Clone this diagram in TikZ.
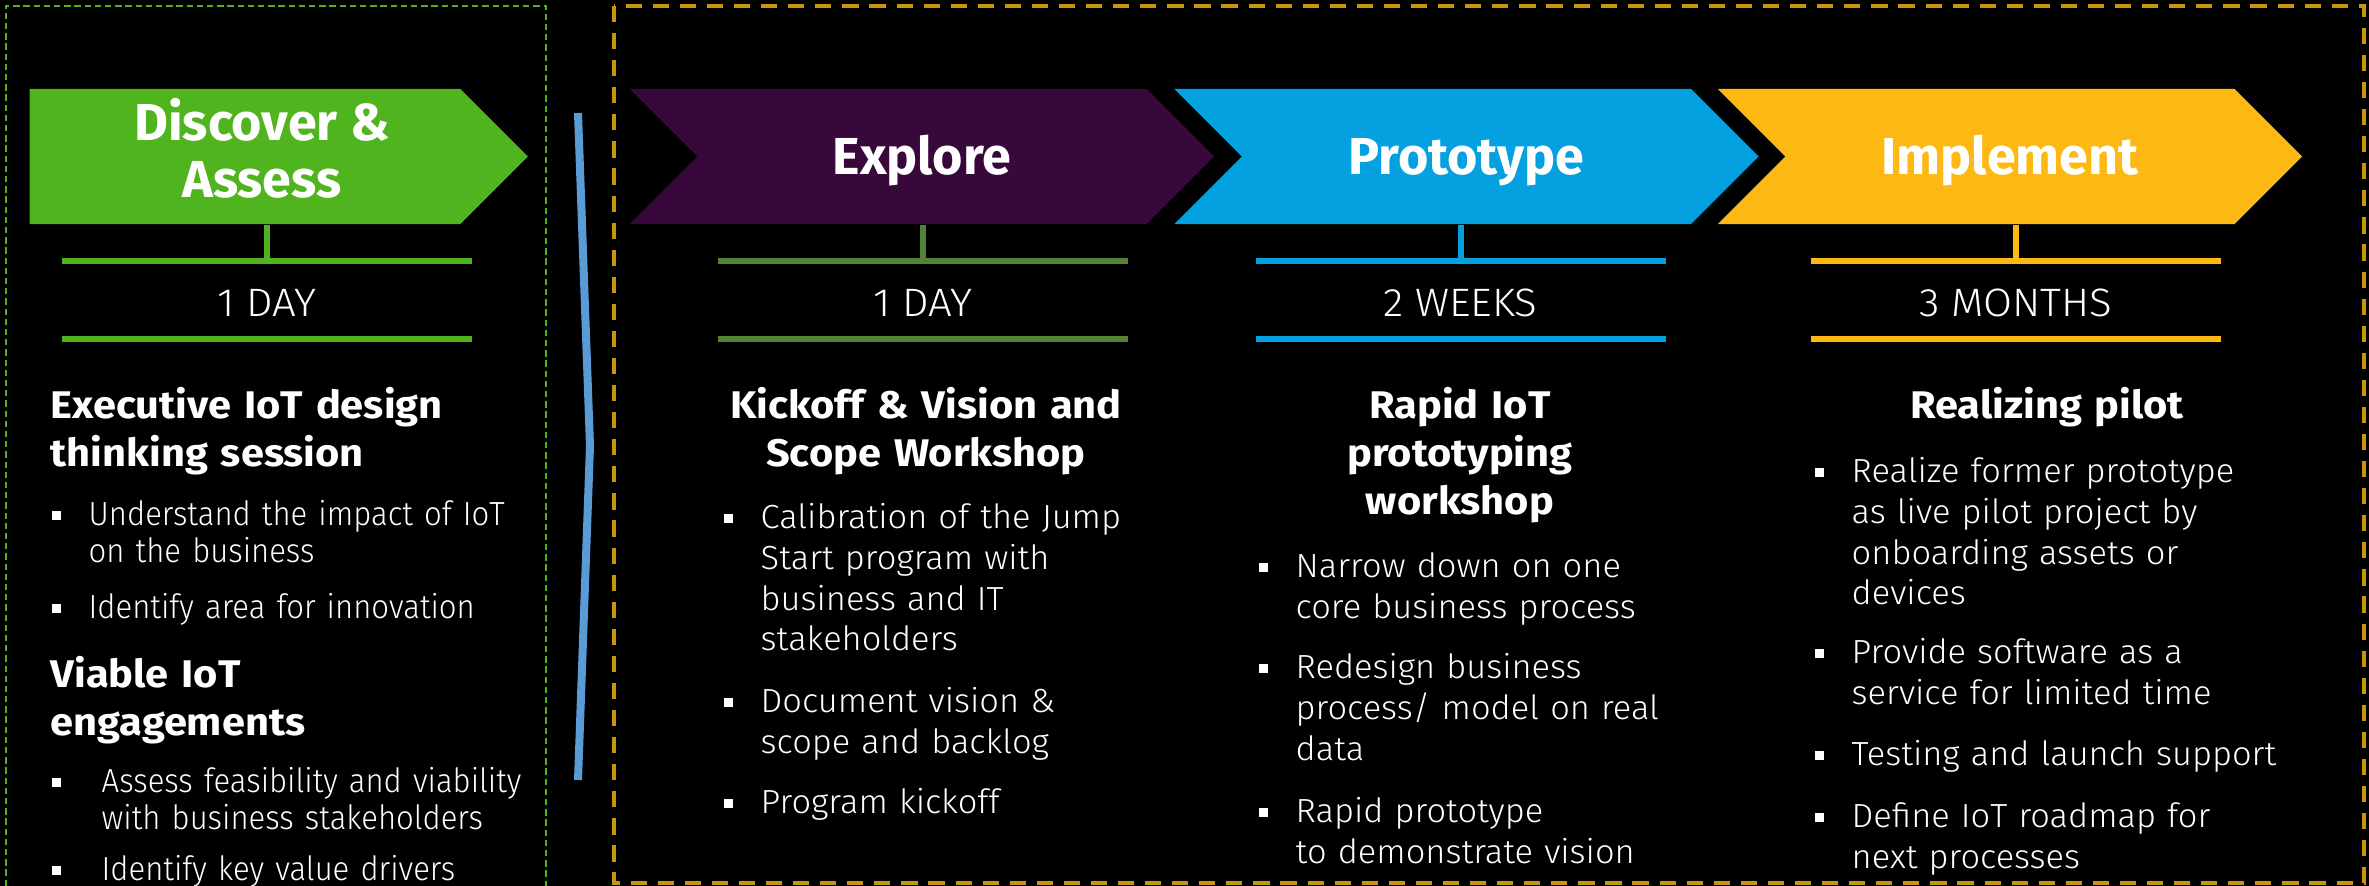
\documentclass[tikz,border=0pt]{standalone}
\usepackage{fontspec}
\usepackage{tikz}
\usetikzlibrary{shapes.symbols}
\setmainfont{Fira Sans}
\newfontfamily\headfont{Fira Sans}[FakeStretch=1.08]
\newfontfamily\durfont{Fira Sans Light}[FakeStretch=1.06]
\newfontfamily\bodyfont{Fira Sans Light}[FakeStretch=1.03]
\newfontfamily\narrowfont{Fira Sans Light}[FakeStretch=0.93]
\definecolor{cdisc}{RGB}{80,180,31}
\definecolor{cexpl}{RGB}{56,8,58}
\definecolor{cexplline}{RGB}{84,130,53}
\definecolor{cprot}{RGB}{4,160,224}
\definecolor{cimpl}{RGB}{253,184,19}
\definecolor{cgold}{RGB}{200,150,12}
\definecolor{csep}{RGB}{91,155,213}
\tikzset{phase/.style = {signal, signal pointer angle=90, inner sep=0,
                         minimum height=1.35cm, minimum width=5.84cm, text=white,
                         font=\bfseries\fontsize{0.52cm}{0.57cm}\selectfont}}
\tikzset{dur/.style = {anchor=base, text=white, inner sep=0,
                       font=\durfont\fontsize{0.396cm}{0.45cm}\selectfont}}
\tikzset{durline/.style = {line width=0.06cm}}
\tikzset{head/.style = {anchor=base, text=white, text width=5cm, align=center, inner sep=0,
                        font=\headfont\bfseries\fontsize{0.385cm}{0.475cm}\selectfont}}
\tikzset{item/.style = {anchor=base west, text=white, text width=5.2cm, align=left, inner sep=0,
                        font=\bodyfont\fontsize{0.334cm}{0.405cm}\selectfont}}
\tikzset{ditem/.style = {item, font=\narrowfont\fontsize{0.334cm}{0.36cm}\selectfont}}
\newcommand{\sqitem}[2][0.37cm]{\hangindent=#1\hangafter=1\noindent
  \makebox[#1][l]{\raisebox{0.06cm}{\rule{0.09cm}{0.09cm}}}#2\par}

\begin{document}
\begin{tikzpicture}[x=0.01cm, y=-0.01cm]
  \useasboundingbox (0,0) rectangle (2369,886);
  \fill [black] (0,0) rectangle (2369,886);
  % frames
  \draw [cdisc, line width=0.5pt, dash pattern=on 1.8pt off 1.1pt]
        (6,886) -- (6,6) -- (546,6) -- (546,886);
  \draw [cgold, line width=1.3pt, dash pattern=on 4.6pt off 3.1pt]
        (614,6) rectangle (2364,883);
  \draw [csep, line width=0.08cm] (578,113) -- (590,446) -- (578,780);
  % phases
  \node [phase, fill=cdisc, minimum width=4.98cm] (disc) at (245,156.5)
        {\hspace*{0.34cm}\begin{tabular}{@{}c@{}}Discover \&\\Assess\end{tabular}};
  \node [phase, fill=cexpl, signal from=west, text height=0.36cm, text depth=0pt] (expl) at (922,156.5) {Explore};
  \node [phase, fill=cprot, signal from=west, text height=0.36cm, text depth=0pt] (prot) at (1466.5,156.5) {Prototype};
  \node [phase, fill=cimpl, signal from=west, text height=0.36cm, text depth=0pt] (impl) at (2010,156.5) {Implement};
  % durations
  \node [dur] (d1) at (267,317) {1 DAY};
  \node [dur] (d2) at (923,317) {1 DAY};
  \node [dur] (d3) at (1460.5,317) {2 WEEKS};
  \node [dur] (d4) at (2016,317) {3 MONTHS};
  \foreach \d/\p/\c in {d1/disc/cdisc, d2/expl/cexplline, d3/prot/cprot, d4/impl/cimpl} {
    \draw [durline, \c] ([shift={(-205,-56)}]\d.base) -- ([shift={(205,-56)}]\d.base);
    \draw [durline, \c] ([shift={(-205,22)}]\d.base) -- ([shift={(205,22)}]\d.base);
    \draw [durline, \c] (\d.base |- \p.south) -- ([shift={(0,-56)}]\d.base);
  }
  % discover & assess
  \node [head, anchor=base west, align=left] (dt1) at (50,419) {Executive IoT design\\thinking session};
  \node [ditem] (db1) at (51,526) {\sqitem{Understand the impact of IoT\newline on the business}};
  \node [ditem] (db2) at (51,619) {\sqitem{Identify area for innovation}};
  \node [head, anchor=base west, align=left] (dt2) at (50,688) {Viable IoT\\engagements};
  \node [ditem] (db3) at (51,793) {\sqitem[0.5cm]{Assess feasibility and viability\newline with business stakeholders}};
  \node [ditem] (db4) at (51,881) {\sqitem[0.5cm]{Identify key value drivers}};
  % explore
  \node [head] (et) at (926,419) {Kickoff \& Vision and\\Scope Workshop};
  \node [item] (eb1) at (723,529) {\sqitem{Calibration of the Jump\newline Start program with\newline business and IT\newline stakeholders}};
  \node [item] (eb2) at (723,713) {\sqitem{Document vision \&\newline scope and backlog}};
  \node [item] (eb3) at (723,814) {\sqitem{Program kickoff}};
  % prototype
  \node [head] (pt) at (1460,419) {Rapid IoT\\prototyping\\workshop};
  \node [item] (pb1) at (1258,578) {\sqitem{Narrow down on one\newline core business process}};
  \node [item] (pb2) at (1258,679) {\sqitem{Redesign business\newline process/ model on real\newline data}};
  \node [item] (pb3) at (1258,823) {\sqitem{Rapid prototype\newline to demonstrate vision}};
  % implement
  \node [head] (it) at (2047,419) {Realizing pilot};
  \node [item] (ib1) at (1814,483) {\sqitem{Realize former prototype\newline as live pilot project by\newline onboarding assets or\newline devices}};
  \node [item] (ib2) at (1814,664) {\sqitem{Provide software as a\newline service for limited time}};
  \node [item] (ib3) at (1814,766) {\sqitem{Testing and launch support}};
  \node [item] (ib4) at (1814,828) {\sqitem{Define IoT roadmap for\newline next processes}};
\end{tikzpicture}
\end{document}
